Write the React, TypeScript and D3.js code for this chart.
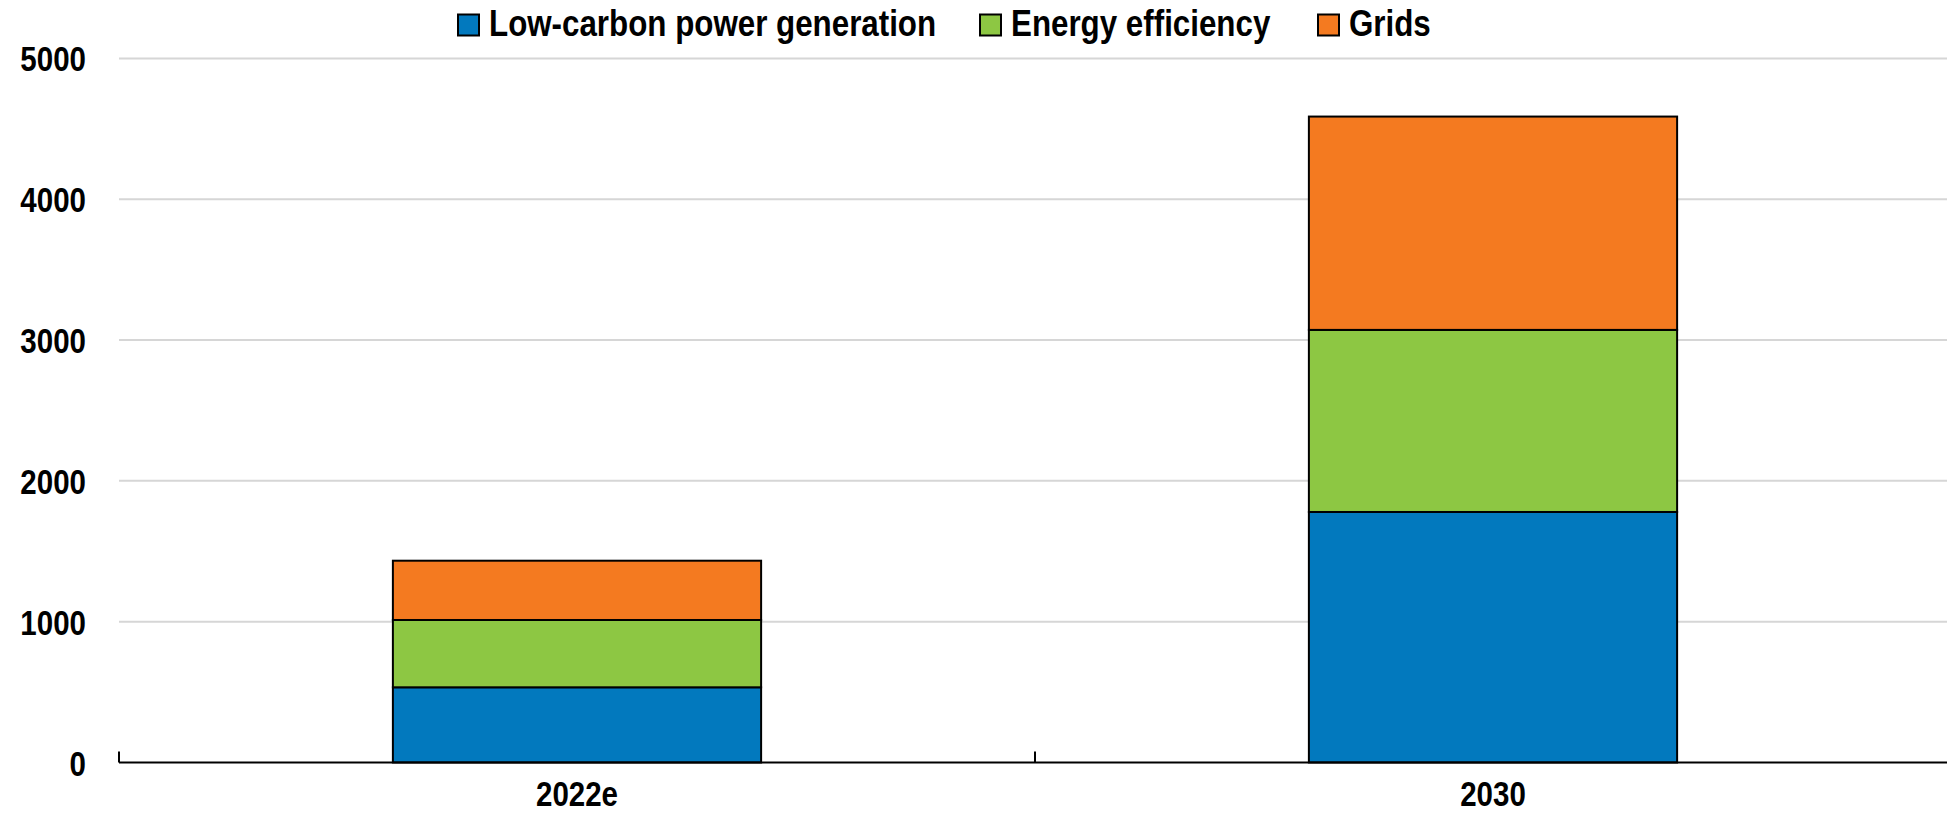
import React from "react";
import * as d3 from "d3";

const categories = ["2022e", "2030"];
const seriesNames = ["Low-carbon power generation", "Energy efficiency", "Grids"];
const lowCarbon = [534, 1779];
const efficiency = [478, 1293];
const grids = [421, 1515];
const yTicks = [0, 1000, 2000, 3000, 4000, 5000];
const colors = ["#0279BE", "#8DC743", "#F47A20"];

const W = 1947;
const H = 814;
const FONT = "'Liberation Sans', Arial, sans-serif";
const FS = 36;

function NText(props: { x: number; y: number; anchor?: string; sx?: number; children: any }) {
  const sx = props.sx ?? 0.82;
  return (
    <text
      transform={`translate(${props.x},${props.y}) scale(${sx},1)`}
      textAnchor={props.anchor || "start"}
      fontFamily={FONT}
      fontWeight="bold"
      fontSize={FS}
      fill="#000"
    >
      {props.children}
    </text>
  );
}

export default function App() {
  const left = 119;
  const right = 1951;
  const top = 58.4;
  const bottom = 762.5;

  const x = d3.scaleBand<string>().domain(categories).range([left, right]).paddingInner(0).paddingOuter(0);
  const y = d3.scaleLinear().domain([0, 5000]).range([bottom, top]);

  const rows = categories.map((c, i) => ({
    cat: c,
    "Low-carbon power generation": lowCarbon[i],
    "Energy efficiency": efficiency[i],
    Grids: grids[i],
  }));
  const stacked = d3.stack<any>().keys(seriesNames)(rows);

  const bw = x.bandwidth() * 0.402;

  const legendX = [458, 980, 1318];

  return (
    <svg width={W} height={H} style={{ position: "absolute", left: 0, top: 0, background: "#fff" }}>
      {yTicks.filter((t) => t !== 0).map((t) => (
        <line key={t} x1={left} x2={right} y1={y(t)} y2={y(t)} stroke="#d6d6d6" strokeWidth={2} />
      ))}
      {yTicks.map((t) => (
        <NText key={"l" + t} x={86} y={y(t) + 13} anchor="end">
          {t}
        </NText>
      ))}
      {stacked.map((s, si) =>
        s.map((d, i) => (
          <rect
            key={si + "-" + i}
            x={(x(categories[i]) as number) + x.bandwidth() / 2 - bw / 2}
            y={y(d[1])}
            width={bw}
            height={y(d[0]) - y(d[1])}
            fill={colors[si]}
            stroke="#000"
            strokeWidth={2}
          />
        ))
      )}
      <line x1={left} x2={right} y1={bottom} y2={bottom} stroke="#000" strokeWidth={2} />
      {categories.map((c) => (
        <line
          key={"t" + c}
          x1={x(c) as number}
          x2={x(c) as number}
          y1={bottom}
          y2={bottom - 11}
          stroke="#000"
          strokeWidth={2}
        />
      ))}
      {categories.map((c) => (
        <NText key={"c" + c} x={(x(c) as number) + x.bandwidth() / 2} y={806} anchor="middle">
          {c}
        </NText>
      ))}
      {seriesNames.map((n, i) => (
        <g key={n}>
          <rect x={legendX[i]} y={14.5} width={21} height={21} fill={colors[i]} stroke="#000" strokeWidth={2} />
          <NText x={legendX[i] + 31} y={36} sx={0.87}>
            {n}
          </NText>
        </g>
      ))}
    </svg>
  );
}
